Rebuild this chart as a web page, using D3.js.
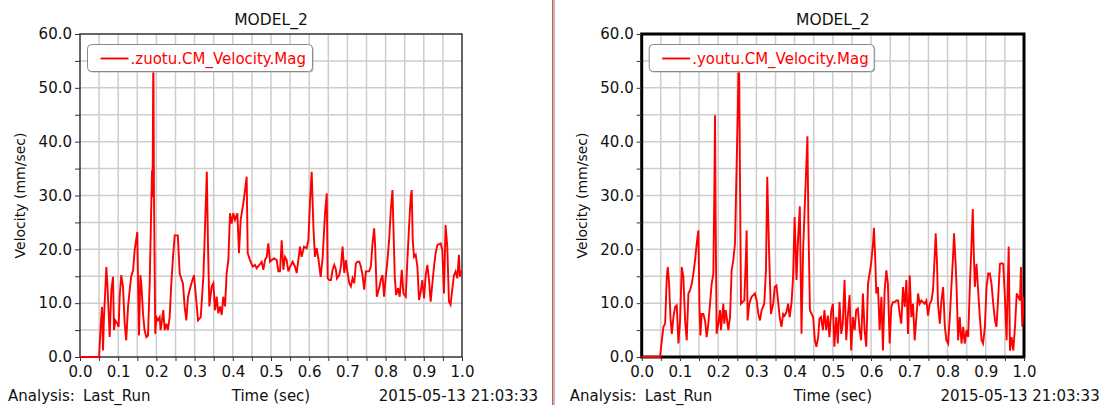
<!DOCTYPE html>
<html>
<head>
<meta charset="utf-8">
<script src="https://cdn.jsdelivr.net/npm/d3@7"></script>
<style>
  body { margin: 0; background: #fff; }
  svg text { font-family: "DejaVu Sans", sans-serif; }
</style>
</head>
<body>
<div id="chart"></div>
<script>
const width = 1107, height = 410;

// data: [time (sec), velocity (mm/sec)]
const zuotu = [[0,0],[0.05,0],[0.054,5.6],[0.0576,9.3],[0.0602,1.2],[0.0628,7.4],[0.069,16.7],[0.0716,13.6],[0.0777,3.7],[0.082,12.4],[0.0864,14.9],[0.089,5],[0.0925,6.8],[0.0977,6.2],[0.1012,5.6],[0.1038,11.2],[0.108,15.2],[0.1126,13],[0.117,6.2],[0.121,3.1],[0.1257,9.3],[0.13,12.4],[0.134,14.9],[0.139,16.1],[0.143,19.8],[0.15,23.2],[0.152,13.6],[0.1545,4],[0.158,15.2],[0.1606,13.6],[0.165,8],[0.169,5],[0.1737,3.7],[0.178,4],[0.1824,13.6],[0.1885,34.7],[0.19,29.7],[0.192,58],[0.1937,29.7],[0.197,4.3],[0.1998,7.4],[0.204,6.8],[0.2086,7.4],[0.211,5],[0.2147,6.8],[0.218,8.7],[0.2216,5],[0.226,6.2],[0.23,5],[0.2347,7.4],[0.239,13.6],[0.2435,18.6],[0.248,22.6],[0.256,22.6],[0.261,15.5],[0.2696,13.6],[0.274,9.3],[0.2784,6.8],[0.2827,11.2],[0.2914,13.6],[0.2984,15.2],[0.302,12.4],[0.309,6.8],[0.316,7.4],[0.323,14.9],[0.332,34.4],[0.335,21.1],[0.3386,9.4],[0.3447,13.1],[0.349,13.7],[0.3534,8.7],[0.3578,11.2],[0.362,8.1],[0.3665,9.4],[0.371,7.8],[0.375,11.2],[0.3796,9.4],[0.384,15.6],[0.3883,18],[0.3927,26.7],[0.397,24.8],[0.4014,26.7],[0.4058,25.5],[0.412,26.7],[0.4162,19.3],[0.4206,25.5],[0.4276,28.6],[0.432,31],[0.4363,33.5],[0.439,19.3],[0.445,18],[0.452,16.8],[0.4581,17.1],[0.4625,16.5],[0.4695,17.1],[0.4756,17.7],[0.48,16.2],[0.4843,18],[0.4887,18.6],[0.493,21.1],[0.4974,17.7],[0.5018,18],[0.508,18.3],[0.515,18],[0.5192,15.9],[0.5236,15.9],[0.528,21.7],[0.5323,16.2],[0.5367,18.6],[0.541,18],[0.5454,15.9],[0.55,16.8],[0.5567,17.7],[0.5628,16.8],[0.5672,15.6],[0.5716,18],[0.576,20.5],[0.5803,18.6],[0.5864,20.5],[0.5934,20.2],[0.5978,21.7],[0.602,28.6],[0.6065,34.4],[0.611,24.2],[0.615,18.6],[0.6196,20.2],[0.624,18.3],[0.63,14.9],[0.6353,18.6],[0.6414,26.7],[0.646,30.4],[0.6484,14.6],[0.6526,14.3],[0.657,14.3],[0.6613,16.2],[0.6657,17.1],[0.67,16.2],[0.6726,14.6],[0.6787,15.2],[0.683,16.8],[0.6874,20.5],[0.6918,15.6],[0.696,18],[0.7005,15.6],[0.7048,13.7],[0.7092,13.1],[0.7135,14.6],[0.7179,13.7],[0.7222,17.4],[0.7266,17.7],[0.731,17.7],[0.7353,16.8],[0.7396,15.2],[0.744,12.5],[0.7483,15.9],[0.757,15.9],[0.7614,16.8],[0.7657,21.1],[0.77,23.9],[0.7727,20.5],[0.777,11.2],[0.7831,12.8],[0.7875,14.3],[0.7918,15.2],[0.796,11.2],[0.8005,14.9],[0.8049,18],[0.8092,21.7],[0.8136,27.3],[0.818,31],[0.8205,24.2],[0.824,14.9],[0.8275,11.5],[0.8327,12.8],[0.837,11.2],[0.8423,16.2],[0.8466,11.8],[0.8527,11.2],[0.857,18],[0.8614,24.2],[0.8658,29.8],[0.8684,31],[0.871,21.7],[0.8745,18.6],[0.8788,19],[0.8832,16.8],[0.8875,10.6],[0.8919,12.1],[0.896,14.3],[0.9006,10.9],[0.905,15.2],[0.9093,17.1],[0.9136,14.3],[0.918,10.3],[0.9224,13.7],[0.9267,16.8],[0.931,19.3],[0.9354,20.8],[0.944,21.1],[0.9484,19.9],[0.9528,11.8],[0.957,24.5],[0.9615,20.5],[0.9658,10.3],[0.97,9.7],[0.9745,12.5],[0.9789,15.2],[0.9832,15.9],[0.9876,14.6],[0.992,19],[0.9945,14.9],[1.0,16.2]];

const youtu = [[0,0],[0.048,0],[0.0526,3.1],[0.057,5.6],[0.0613,6.2],[0.0657,14.9],[0.0683,16.7],[0.0717,13.6],[0.0752,7.4],[0.0787,4.3],[0.083,7.4],[0.0874,9.3],[0.0917,9.6],[0.0961,2.5],[0.1004,6.8],[0.1048,16.7],[0.109,14.9],[0.1135,6.8],[0.1178,3.1],[0.1222,11.8],[0.1265,12.4],[0.1309,13.6],[0.1352,15.5],[0.1396,18],[0.144,21.1],[0.1483,23.5],[0.1509,9.9],[0.1535,4],[0.157,8],[0.1613,8],[0.1657,6.8],[0.17,3.7],[0.1743,6.2],[0.1787,9.9],[0.183,13.6],[0.1874,15.5],[0.19,31],[0.1918,44.9],[0.1935,24.8],[0.196,4.3],[0.2005,6.2],[0.2048,8.7],[0.2075,5],[0.211,8],[0.2136,9.9],[0.216,6.2],[0.2197,8.7],[0.2223,7.4],[0.2266,5],[0.231,7.4],[0.2353,16.1],[0.2397,18],[0.244,21.1],[0.2484,35.9],[0.251,44.6],[0.2545,58],[0.257,34.1],[0.2597,9.9],[0.2632,10.2],[0.2684,10.5],[0.2719,17.3],[0.2745,23.5],[0.277,6.8],[0.2814,9.9],[0.2875,11.2],[0.2919,11.5],[0.2962,11.8],[0.3006,10.5],[0.305,8],[0.3093,6.8],[0.3137,8.7],[0.3206,9.9],[0.325,16.1],[0.3284,33.5],[0.333,20],[0.338,8],[0.344,9.9],[0.348,13],[0.3525,13.3],[0.357,10.2],[0.361,7.4],[0.3656,5.6],[0.37,8],[0.374,7.7],[0.379,8.4],[0.383,9.9],[0.387,7.4],[0.392,10.2],[0.396,14.9],[0.4,26],[0.405,14.3],[0.409,22],[0.4136,28],[0.418,4.3],[0.4223,20],[0.426,27],[0.4335,41],[0.436,25],[0.44,8.7],[0.4485,7.4],[0.453,3.1],[0.457,1.9],[0.4616,3.7],[0.465,7.1],[0.469,7.4],[0.474,5],[0.478,8.7],[0.4825,5],[0.487,7.7],[0.491,3.7],[0.4956,8.4],[0.5,9.9],[0.504,1.9],[0.509,7.4],[0.513,2.5],[0.5175,10.2],[0.522,4.3],[0.526,6.2],[0.5306,14.3],[0.535,3.1],[0.539,7.4],[0.5437,11.5],[0.548,1.2],[0.5524,7.4],[0.557,5],[0.561,8.7],[0.5655,9],[0.57,5],[0.574,3.1],[0.5787,11.8],[0.583,5],[0.5874,1.9],[0.592,13.6],[0.596,15.5],[0.6,17.3],[0.605,21],[0.6075,24],[0.611,18],[0.6136,11.8],[0.618,13],[0.6224,5],[0.627,11.2],[0.631,1.2],[0.6355,12.4],[0.64,16.1],[0.644,13.6],[0.6486,2.5],[0.653,9.3],[0.657,10.2],[0.6617,10.2],[0.666,10.5],[0.6705,10.5],[0.675,8],[0.679,6.2],[0.6835,13],[0.688,9.3],[0.6923,14.3],[0.6966,4.3],[0.701,15.2],[0.7054,7.4],[0.7098,9.9],[0.714,3.1],[0.7185,7.4],[0.723,11.8],[0.727,9.9],[0.7316,10.5],[0.736,10.2],[0.74,9.9],[0.7447,10.5],[0.749,7.7],[0.7535,9.9],[0.758,10.5],[0.762,12.4],[0.7666,19],[0.769,23],[0.7727,17],[0.775,9.9],[0.7797,6.2],[0.784,10.5],[0.7884,13],[0.793,5.6],[0.797,3.1],[0.8015,2.5],[0.806,7.4],[0.81,13],[0.8146,19],[0.817,23],[0.8207,18],[0.8233,13.6],[0.8277,3.1],[0.832,7.4],[0.8365,2.5],[0.841,5.6],[0.845,2.5],[0.8496,5],[0.854,3.7],[0.8583,13],[0.8627,21],[0.866,27.5],[0.8688,19],[0.8714,13],[0.8758,17.3],[0.88,12.4],[0.8845,7.4],[0.889,3.1],[0.893,2.5],[0.8976,5.6],[0.902,13],[0.9063,15.5],[0.9107,15.5],[0.915,13.6],[0.9195,9.9],[0.924,6.8],[0.928,5.6],[0.9326,11.2],[0.937,17.3],[0.9413,17.4],[0.9457,17.3],[0.95,11.2],[0.9545,3.1],[0.957,12],[0.96,20.5],[0.9633,1.2],[0.9676,3.7],[0.972,1.2],[0.9764,5.6],[0.981,11.8],[0.985,11.2],[0.9895,10.5],[0.992,16.7],[0.9955,5.6],[1.0,11.2]];

const xTickValues = d3.range(0, 20.5).map(k => k * 0.05);
const yTickValues = d3.range(0, 60.001, 5);
const seriesNames = [".zuotu.CM_Velocity.Mag", ".youtu.CM_Velocity.Mag"];
const titles = ["MODEL_2", "MODEL_2"];
const footer = { analysis: "Analysis:", run: "Last_Run", xLabel: "Time (sec)", stamp: "2015-05-13 21:03:33" };
const yLabel = "Velocity (mm/sec)";

const svg = d3.select("#chart").append("svg")
    .attr("width", width)
    .attr("height", height);

svg.append("rect").attr("width", width).attr("height", height).attr("fill", "#fff");

// divider between the two views
svg.append("rect").attr("x", 552).attr("y", 0).attr("width", 3).attr("height", 405).attr("fill", "#f4a3a3");
svg.append("line").attr("x1", 552.5).attr("x2", 552.5).attr("y1", 0).attr("y2", 405)
    .attr("stroke", "#7d7d7d").attr("stroke-width", 1);

const panels = [
  { left: 80, right: 462, top: 34, bottom: 357, data: zuotu, frame: "#333", frameW: 1.5, offset: 0 },
  { left: 641.7, right: 1024, top: 34, bottom: 357, data: youtu, frame: "#000", frameW: 3, offset: 561.7 }
];

panels.forEach((p, i) => drawPanel(p, i));

function drawPanel(p, i) {
  const g = svg.append("g");
  const x = d3.scaleLinear().domain([0, 1]).range([p.left, p.right]);
  const y = d3.scaleLinear().domain([0, 60]).range([p.bottom, p.top]);

  // grid
  g.selectAll(".vgrid").data(xTickValues.slice(1, -1))
    .enter().append("line")
    .attr("x1", d => x(d)).attr("x2", d => x(d))
    .attr("y1", p.top).attr("y2", p.bottom)
    .attr("stroke", "#cdcdcd").attr("stroke-width", 1.5);
  g.selectAll(".hgrid").data(yTickValues.slice(1, -1))
    .enter().append("line")
    .attr("x1", p.left).attr("x2", p.right)
    .attr("y1", d => y(d)).attr("y2", d => y(d))
    .attr("stroke", "#cdcdcd").attr("stroke-width", 1.5);

  // frame
  g.append("rect").attr("x", p.left).attr("y", p.top)
    .attr("width", p.right - p.left).attr("height", p.bottom - p.top)
    .attr("fill", "none").attr("stroke", p.frame).attr("stroke-width", p.frameW);

  // clipped data line, drawn over the frame
  const clipId = "clip" + i;
  svg.append("clipPath").attr("id", clipId).append("rect")
    .attr("x", p.left - 1).attr("y", p.top).attr("width", p.right - p.left + 1).attr("height", p.bottom - p.top + 1);

  const line = d3.line().x(d => x(d[0])).y(d => y(d[1]));
  g.append("path").datum(p.data)
    .attr("clip-path", `url(#${clipId})`)
    .attr("d", line)
    .attr("fill", "none")
    .attr("stroke", "#ff0000")
    .attr("stroke-width", 1.9)
    .attr("stroke-linejoin", "miter");

  // legend
  const lx = p.left + 7.5, ly = 44.5;
  g.append("rect").attr("x", lx + 1).attr("y", ly + 1).attr("width", 225).attr("height", 27)
    .attr("rx", 4).attr("fill", "#bbb");
  g.append("rect").attr("x", lx).attr("y", ly).attr("width", 225).attr("height", 27)
    .attr("rx", 4).attr("fill", "#fff").attr("stroke", "#8a8a8a").attr("stroke-width", 1);
  g.append("line").attr("x1", lx + 13).attr("x2", lx + 41).attr("y1", ly + 14).attr("y2", ly + 14)
    .attr("stroke", "#ff0000").attr("stroke-width", 1.9);
  g.append("text").attr("x", lx + 43).attr("y", ly + 19.5)
    .attr("fill", "#ff0000").attr("font-size", 15).text(seriesNames[i]);

  // y axis
  const yAxis = d3.axisLeft(y).tickValues(yTickValues).tickSize(5)
    .tickFormat(d => (d % 10 === 0 ? d3.format(".1f")(d) : ""));
  const ya = g.append("g").attr("transform", `translate(${p.left},0)`).call(yAxis);
  ya.select(".domain").remove();
  ya.selectAll(".tick line").attr("stroke", "#333");
  ya.selectAll(".tick text").attr("font-size", 15).attr("fill", "#111")
    .attr("font-family", "DejaVu Sans").attr("x", -8);

  // x axis
  const xAxis = d3.axisBottom(x).tickValues(xTickValues).tickSize(4)
    .tickFormat(d => (Math.round(d * 100) % 10 === 0 ? d3.format(".1f")(d) : ""));
  const xa = g.append("g").attr("transform", `translate(0,${p.bottom})`).call(xAxis);
  xa.select(".domain").remove();
  xa.selectAll(".tick line").attr("stroke", "#333");
  xa.selectAll(".tick text").attr("font-size", 15).attr("fill", "#111")
    .attr("font-family", "DejaVu Sans").attr("y", 9);

  const cx = (p.left + p.right) / 2;
  g.append("text").attr("x", cx).attr("y", 25).attr("text-anchor", "middle")
    .attr("font-size", 15.5).attr("fill", "#111").text(titles[i]);

  g.append("text").attr("transform", `translate(${p.offset + 25},${(p.top + p.bottom) / 2}) rotate(-90)`)
    .attr("text-anchor", "middle").attr("font-size", 14).attr("fill", "#111").text(yLabel);

  g.append("text").attr("x", p.offset + 8).attr("y", 401).attr("font-size", 15).attr("fill", "#111").text(footer.analysis);
  g.append("text").attr("x", p.offset + 83).attr("y", 401).attr("font-size", 15).attr("fill", "#111").text(footer.run);
  g.append("text").attr("x", cx).attr("y", 401).attr("text-anchor", "middle").attr("font-size", 15).attr("fill", "#111").text(footer.xLabel);
  g.append("text").attr("x", p.offset + 538).attr("y", 401).attr("text-anchor", "end").attr("font-size", 15).attr("fill", "#111").text(footer.stamp);
}
</script>
</body>
</html>
